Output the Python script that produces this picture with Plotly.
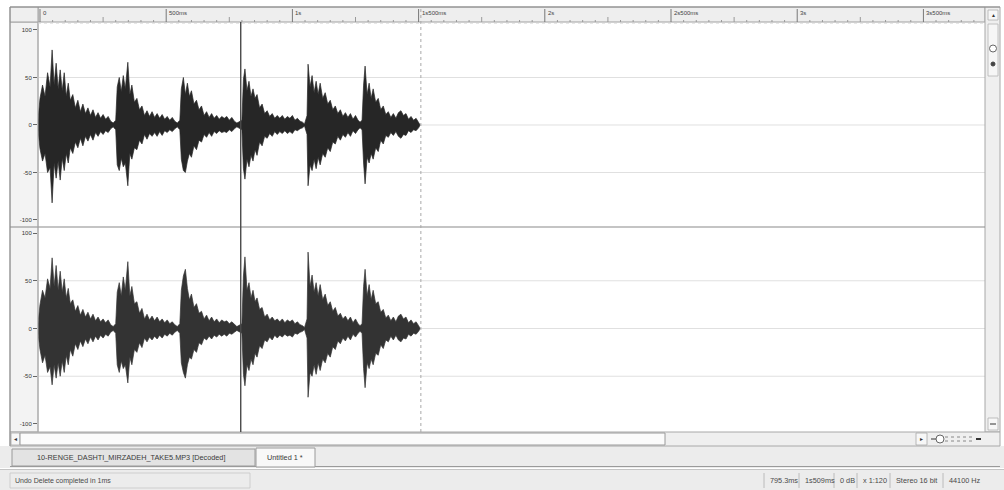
import plotly.graph_objects as go

# ---------------- data ----------------
time_ms = [-8, 0, 10, 20, 30, 40, 48, 56, 64, 72, 80, 88, 96, 104, 112, 120, 130, 140, 150, 160, 170, 180, 190, 200, 210, 220, 230, 240, 250, 260, 270, 280, 290,
           300, 306, 314, 322, 330, 338, 348, 356, 364, 374, 384, 394, 404, 414, 424, 434, 444, 454, 464, 474, 484, 494, 504, 514, 524, 534, 544,
           554, 560, 568, 576, 584, 592, 600, 610, 620, 630, 640, 650, 660, 670, 680, 690, 700, 710, 720, 730, 740, 750, 760, 770, 780,
           800, 806, 812, 820, 828, 836, 844, 852, 860, 870, 880, 890, 900, 910, 920, 930, 940, 950, 960, 970, 980, 990, 1000, 1010, 1020, 1030, 1040, 1048,
           1058, 1062, 1070, 1078, 1086, 1094, 1102, 1110, 1120, 1130, 1140, 1150, 1160, 1170, 1180, 1190, 1200, 1210, 1220, 1230, 1240, 1250, 1260, 1268,
           1276, 1282, 1288, 1296, 1304, 1312, 1320, 1330, 1340, 1350, 1360, 1370, 1380, 1390, 1400, 1410, 1420, 1430, 1440, 1450, 1460, 1470, 1480, 1490, 1500, 1506]

ch1_upper = [5, 28, 42, 30, 55, 40, 79, 42, 65, 38, 58, 36, 55, 30, 44, 26, 32, 18, 26, 14, 22, 12, 18, 10, 16, 8, 13, 7, 11, 6, 9, 4, 2,
             5, 40, 50, 35, 52, 38, 66, 32, 42, 24, 28, 16, 20, 10, 15, 9, 14, 8, 12, 7, 11, 6, 9, 5, 8, 4, 2,
             5, 38, 50, 32, 44, 30, 36, 22, 26, 16, 20, 10, 14, 8, 12, 7, 10, 6, 9, 7, 9, 5, 8, 4, 2,
             5, 48, 59, 36, 46, 30, 38, 28, 32, 18, 22, 12, 15, 9, 12, 7, 10, 7, 10, 6, 9, 7, 10, 5, 7, 4, 3, 1,
             10, 64, 40, 52, 34, 46, 32, 44, 28, 34, 22, 26, 16, 20, 12, 16, 9, 13, 8, 12, 6, 10, 5, 3,
             5, 42, 62, 32, 44, 28, 38, 24, 28, 16, 20, 11, 14, 8, 12, 7, 13, 15, 10, 12, 6, 9, 5, 7, 3, 0]
ch1_lower = [-5, -25, -38, -30, -50, -45, -82, -40, -56, -38, -58, -35, -48, -30, -40, -24, -30, -18, -24, -14, -22, -12, -17, -10, -16, -8, -12, -7, -10, -6, -8, -4, -2,
             -5, -42, -48, -35, -44, -40, -64, -30, -36, -24, -26, -16, -20, -10, -15, -9, -12, -8, -12, -7, -11, -6, -8, -5, -7, -4, -2,
             -5, -36, -48, -50, -38, -30, -34, -22, -26, -16, -18, -10, -13, -8, -12, -7, -9, -6, -8, -7, -8, -5, -7, -4, -2,
             -5, -46, -57, -36, -44, -32, -38, -26, -32, -18, -22, -12, -14, -9, -12, -7, -10, -7, -9, -6, -9, -7, -9, -5, -6, -4, -3, -1,
             -10, -64, -42, -48, -36, -46, -34, -42, -30, -34, -24, -28, -18, -20, -12, -16, -10, -13, -8, -12, -6, -9, -5, -3,
             -5, -40, -62, -34, -40, -30, -36, -24, -28, -16, -20, -11, -13, -8, -11, -7, -12, -14, -10, -11, -6, -8, -5, -6, -3, 0]

ch2_upper = [5, 25, 40, 32, 52, 42, 74, 44, 66, 40, 60, 38, 52, 32, 42, 26, 30, 18, 24, 14, 20, 12, 17, 10, 15, 8, 12, 7, 10, 6, 9, 4, 2,
             5, 38, 48, 34, 54, 40, 70, 34, 44, 26, 28, 16, 21, 10, 15, 9, 13, 8, 12, 7, 10, 6, 9, 5, 7, 4, 2,
             5, 40, 55, 62, 42, 30, 36, 22, 26, 16, 18, 10, 14, 8, 12, 7, 10, 6, 9, 7, 8, 5, 7, 4, 2,
             5, 55, 75, 40, 48, 32, 40, 28, 32, 20, 22, 12, 15, 9, 12, 8, 10, 7, 10, 6, 9, 7, 9, 5, 7, 4, 3, 1,
             10, 80, 44, 56, 38, 48, 34, 46, 30, 36, 24, 28, 18, 22, 13, 16, 10, 13, 8, 12, 6, 10, 5, 3,
             5, 44, 62, 34, 46, 30, 40, 26, 28, 17, 20, 11, 14, 8, 12, 7, 13, 15, 10, 12, 6, 9, 5, 7, 3, 0]
ch2_lower = [-5, -22, -36, -28, -46, -40, -59, -38, -52, -36, -50, -34, -46, -28, -38, -22, -29, -16, -22, -13, -19, -11, -16, -9, -14, -8, -12, -7, -10, -6, -8, -4, -2,
             -5, -38, -46, -34, -42, -38, -57, -30, -38, -22, -25, -15, -20, -10, -14, -9, -12, -8, -11, -7, -10, -6, -8, -5, -7, -4, -2,
             -5, -36, -46, -52, -38, -30, -32, -22, -25, -15, -17, -10, -12, -8, -11, -7, -9, -6, -8, -6, -8, -5, -6, -4, -2,
             -5, -48, -60, -38, -44, -32, -38, -26, -30, -18, -21, -12, -14, -9, -12, -7, -10, -7, -9, -6, -8, -7, -9, -5, -6, -4, -3, -1,
             -10, -72, -46, -50, -38, -48, -36, -44, -32, -36, -26, -30, -19, -22, -13, -16, -10, -13, -8, -12, -6, -9, -5, -3,
             -5, -42, -62, -36, -42, -32, -38, -26, -28, -17, -21, -12, -14, -8, -12, -7, -12, -14, -10, -11, -6, -8, -5, -6, -3, 0]

ruler_tick_ms = [0, 500, 1000, 1500, 2000, 2500, 3000, 3500]
ruler_labels = ["0", "500ms", "1s", "1s500ms", "2s", "2s500ms", "3s", "3s500ms"]
amp_ticks = [100, 50, 0, -50, -100]
amp_labels = ["100", "50", "0", "-50", "-100"]
cursor_ms = 795.3
length_ms = 1509
view_ms = [-7.9, 3744]

tab_labels = ["10-RENGE_DASHTI_MIRZADEH_TAKE5.MP3 [Decoded]", "Untitled 1 *"]
status_left = "Undo Delete completed in 1ms"
status_right = ["795.3ms", "1s509ms", "0 dB", "x 1:120", "Stereo 16 bit", "44100 Hz"]

for arr in (ch1_upper, ch1_lower, ch2_upper, ch2_lower):
    assert len(arr) == len(time_ms)

# ---------------- figure ----------------
W, H = 1004, 490
def px(x): return x / W
def py(y): return 1 - y / H

FONT = "Liberation Sans"
TXT = "#4a4a4a"

fig = go.Figure()
for up, lo, ya, col in [(ch1_upper, ch1_lower, "y", "#262626"), (ch2_upper, ch2_lower, "y2", "#333333")]:
    fig.add_trace(go.Scatter(
        x=time_ms + time_ms[::-1], y=up + lo[::-1],
        xaxis="x" if ya == "y" else "x2", yaxis=ya,
        mode="lines", fill="toself", fillcolor=col,
        line=dict(color=col, width=0.7), hoverinfo="skip", showlegend=False))

shapes = []
annotations = []

def rect(x0, y0, x1, y1, fill, line="#9a9a9a", lw=1, layer="above"):
    shapes.append(dict(type="rect", xref="paper", yref="paper", x0=px(x0), x1=px(x1),
                       y0=py(y1), y1=py(y0), fillcolor=fill, line=dict(color=line, width=lw), layer=layer))

def hline(x0, x1, y, color="#9a9a9a", lw=1, dash="solid"):
    shapes.append(dict(type="line", xref="paper", yref="paper", x0=px(x0), x1=px(x1), y0=py(y), y1=py(y),
                       line=dict(color=color, width=lw, dash=dash)))

def vline(x, y0, y1, color="#9a9a9a", lw=1):
    shapes.append(dict(type="line", xref="paper", yref="paper", x0=px(x), x1=px(x), y0=py(y0), y1=py(y1),
                       line=dict(color=color, width=lw)))

def text(x, y, s, size=7, anchor="left", color=TXT):
    annotations.append(dict(xref="paper", yref="paper", x=px(x), y=py(y), text=s, showarrow=False,
                            xanchor=anchor, yanchor="middle", font=dict(family=FONT, size=size, color=color)))

# panels
rect(10, 22, 38, 432, "#f3f3f3", "#b0b0b0", 1, layer="below")      # amplitude column
rect(38, 7, 985, 22, "#eeeeee", "#a0a0a0", 1, layer="below")       # ruler
rect(10, 7, 38, 22, "#efefef", "#a0a0a0", 1)                        # ruler corner
rect(985, 7, 1000, 432, "#efefef", "#a8a8a8", 1)                    # vertical scrollbar
rect(988, 10, 998, 20, "#f7f7f7", "#b0b0b0", 0.8)
text(993, 15, "▲", 5, "center", "#333")
rect(988, 24, 998, 76, "#f6f6f6", "#b5b5b5", 0.8)
shapes.append(dict(type="circle", xref="paper", yref="paper", x0=px(989.5), x1=px(996.5), y0=py(52), y1=py(45),
                   fillcolor="#ffffff", line=dict(color="#666", width=1)))
shapes.append(dict(type="circle", xref="paper", yref="paper", x0=px(991), x1=px(995), y0=py(66), y1=py(62),
                   fillcolor="#444", line=dict(color="#444", width=1)))
rect(988, 418, 998, 430, "#f7f7f7", "#b0b0b0", 0.8)
hline(990, 996, 424, "#333", 1)

# horizontal scrollbar row
rect(10, 432, 1000, 446, "#efefef", "#a8a8a8", 1)
rect(11, 433, 20, 445, "#f7f7f7", "#a8a8a8", 0.8)
text(15.5, 439, "◂", 6, "center", "#333")
rect(20, 433, 665, 445, "#fbfbfb", "#9a9a9a", 1)
rect(916, 433, 927, 445, "#f7f7f7", "#a8a8a8", 0.8)
text(921.5, 439, "▸", 6, "center", "#333")
shapes.append(dict(type="circle", xref="paper", yref="paper", x0=px(936), x1=px(944), y0=py(443), y1=py(435),
                   fillcolor="#ffffff", line=dict(color="#666", width=1)))
hline(931, 936, 439, "#555", 1.2)
hline(945, 974, 437, "#888", 1, "dot")
hline(945, 974, 441, "#888", 1, "dot")
hline(976, 981, 439, "#333", 2)
hline(10, 1000, 7, "#8c8c8c", 1.2)

# tabs row
rect(0, 446, 1004, 468, "#ececec", "#ececec", 0, layer="below")
hline(10, 1000, 466.5, "#9a9a9a", 1)
rect(12, 449, 255, 466, "#e3e3e3", "#9a9a9a", 1)
text(131, 457.5, tab_labels[0], 7.3, "center", "#3a3a3a")
rect(256, 448, 315, 467, "#f8f8f8", "#9a9a9a", 1)
text(285, 457.5, tab_labels[1], 7.3, "center", "#3a3a3a")

# status bar
rect(0, 469, 1004, 490, "#ececec", "#ececec", 0, layer="below")
hline(0, 1004, 469.5, "#c4c4c4", 1)
rect(10, 473, 250, 488, "rgba(0,0,0,0)", "#c8c8c8", 0.8)
text(13, 480.5, status_left, 7)
seps = [764, 799, 834, 857, 890, 943]
for sx, s in zip(seps, status_right):
    text(sx + 4, 480.5, s, 7.3)
for s in seps:
    vline(s, 473, 488, "#b0b0b0", 0.8)

# channel divider + column edge
hline(10, 985, 227, "#8a8a8a", 1.2)
vline(38, 22, 432, "#a8a8a8", 1)
vline(10, 7, 446, "#8c8c8c", 1)

# grid lines
for ya in ["y", "y2"]:
    for v in [50, 0, -50]:
        shapes.append(dict(type="line", xref="paper", yref=ya, x0=px(38), x1=px(985), y0=v, y1=v,
                           line=dict(color="#e0e0e0", width=1), layer="below"))

# ruler ticks & labels
for t in range(0, 3750, 50):
    if t % 500 == 0:
        y0 = 9
    elif t % 250 == 0:
        y0 = 17
    else:
        y0 = 20
    shapes.append(dict(type="line", xref="x", yref="paper", x0=t, x1=t, y0=py(22), y1=py(y0),
                       line=dict(color="#777" if t % 500 == 0 else "#999", width=1)))
for t, lab in zip(ruler_tick_ms, ruler_labels):
    annotations.append(dict(xref="x", yref="paper", x=t, y=py(13.5), text=lab, showarrow=False,
                            xanchor="left", yanchor="middle", xshift=1,
                            font=dict(family=FONT, size=6, color="#444")))
hline(38, 985, 23, "#cfcfcf", 1, "dot")

# cursor + end marker
shapes.append(dict(type="line", xref="x", yref="paper", x0=cursor_ms, x1=cursor_ms, y0=py(432), y1=py(22),
                   line=dict(color="#4a4a4a", width=1.4)))
shapes.append(dict(type="line", xref="x", yref="paper", x0=length_ms, x1=length_ms, y0=py(432), y1=py(8),
                   line=dict(color="#a8a8a8", width=1, dash="dot")))

common_x = dict(range=view_ms, domain=[px(38), px(985)], showticklabels=False, showgrid=False,
                zeroline=False, ticks="", fixedrange=True, showline=False)
common_y = dict(tickvals=amp_ticks, ticktext=amp_labels, ticks="outside", ticklen=4, tickcolor="#666",
                tickfont=dict(family=FONT, size=6, color="#333"), showgrid=False, zeroline=False,
                showline=False, fixedrange=True)

fig.update_layout(
    width=W, height=H, margin=dict(l=0, r=0, t=0, b=0),
    paper_bgcolor="#ffffff", plot_bgcolor="rgba(0,0,0,0)",
    xaxis=dict(**common_x, anchor="y"),
    xaxis2=dict(**common_x, anchor="y2", matches="x"),
    yaxis=dict(**common_y, domain=[py(227), py(22)], range=[-107.4, 108.4], anchor="x"),
    yaxis2=dict(**common_y, domain=[py(432), py(227)], range=[-108.4, 106.3], anchor="x2"),
    shapes=shapes, annotations=annotations, showlegend=False,
)

fig.write_html("out.html", config={"displayModeBar": False},
               post_script="document.body.style.margin='0';document.body.style.padding='0';")
